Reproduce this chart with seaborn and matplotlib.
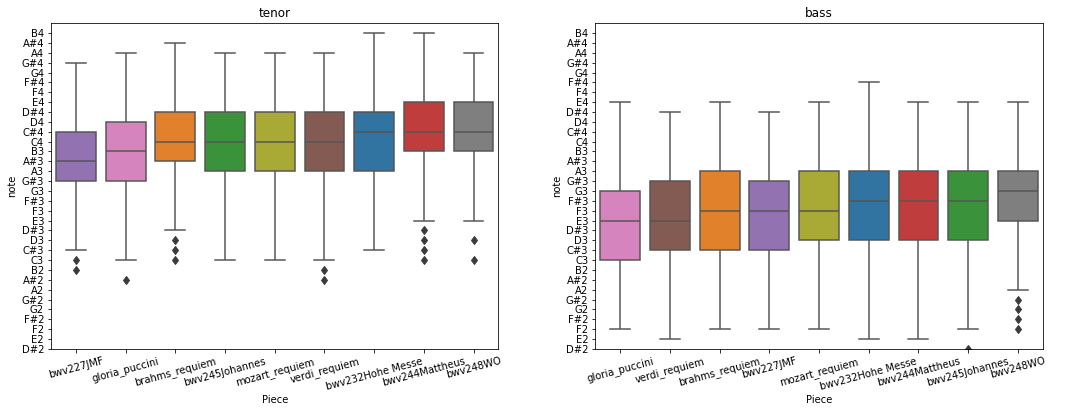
import numpy as np
import matplotlib
matplotlib.use('Agg')
import matplotlib.pyplot as plt
import pandas as pd
import seaborn as sns

# note names on the y axis, bottom to top (one semitone per tick)
notes = ['D#2', 'E2', 'F2', 'F#2', 'G2', 'G#2', 'A2', 'A#2', 'B2',
         'C3', 'C#3', 'D3', 'D#3', 'E3', 'F3', 'F#3', 'G3', 'G#3', 'A3', 'A#3', 'B3',
         'C4', 'C#4', 'D4', 'D#4', 'E4', 'F4', 'F#4', 'G4', 'G#4', 'A4', 'A#4', 'B4']

# box stats: low whisker, q1, median, q3, high whisker, outliers
tenor_pieces = ['bwv227JMF', 'gloria_puccini', 'brahms_requiem', 'bwv245Johannes',
                'mozart_requiem', 'verdi_requiem', 'bwv232Hohe Messe', 'bwv244Mattheus', 'bwv248WO']
tenor_lo = ['C#3', 'C3', 'D#3', 'C3', 'C3', 'C3', 'C#3', 'E3', 'E3']
tenor_q1 = ['G#3', 'G#3', 'A#3', 'A3', 'A3', 'A3', 'A3', 'B3', 'B3']
tenor_med = ['A#3', 'B3', 'C4', 'C4', 'C4', 'C4', 'C#4', 'C#4', 'C#4']
tenor_q3 = ['C#4', 'D4', 'D#4', 'D#4', 'D#4', 'D#4', 'D#4', 'E4', 'E4']
tenor_hi = ['G#4', 'A4', 'A#4', 'A4', 'A4', 'A4', 'B4', 'B4', 'A4']
tenor_out = [['C3', 'B2'], ['A#2'], ['D3', 'C#3', 'C3'], [], [], ['B2', 'A#2'], [],
             ['D#3', 'D3', 'C#3', 'C3'], ['D3', 'C3']]

bass_pieces = ['gloria_puccini', 'verdi_requiem', 'brahms_requiem', 'bwv227JMF',
               'mozart_requiem', 'bwv232Hohe Messe', 'bwv244Mattheus', 'bwv245Johannes', 'bwv248WO']
bass_lo = ['F2', 'E2', 'F2', 'F2', 'F2', 'E2', 'E2', 'F2', 'A2']
bass_q1 = ['C3', 'C#3', 'C#3', 'C#3', 'D3', 'D3', 'D3', 'D3', 'E3']
bass_med = ['E3', 'E3', 'F3', 'F3', 'F3', 'F#3', 'F#3', 'F#3', 'G3']
bass_q3 = ['G3', 'G#3', 'A3', 'G#3', 'A3', 'A3', 'A3', 'A3', 'A3']
bass_hi = ['E4', 'D#4', 'E4', 'D#4', 'E4', 'F#4', 'E4', 'E4', 'E4']
bass_out = [[], [], [], [], [], [], [], ['D#2'], ['G#2', 'G2', 'F#2', 'F2']]

palette = {
    'bwv232Hohe Messe': '#1f77b4', 'brahms_requiem': '#ff7f0e', 'bwv245Johannes': '#2ca02c',
    'bwv244Mattheus': '#d62728', 'bwv227JMF': '#9467bd', 'verdi_requiem': '#8c564b',
    'gloria_puccini': '#e377c2', 'bwv248WO': '#7f7f7f', 'mozart_requiem': '#bcbd22',
}


def build_frame(pieces, lo, q1, med, q3, hi, out):
    # sample of note numbers whose quartiles/whiskers give the boxes above
    rows = []
    for i, p in enumerate(pieces):
        vals = [out_n for out_n in out[i]] + [lo[i]] + [q1[i]] * 20 + [med[i]] * 20 \
            + [q3[i]] * 20 + [hi[i]]
        for v in vals:
            rows.append({'Piece': p, 'note': notes.index(v)})
    return pd.DataFrame(rows)


tenor = build_frame(tenor_pieces, tenor_lo, tenor_q1, tenor_med, tenor_q3, tenor_hi, tenor_out)
bass = build_frame(bass_pieces, bass_lo, bass_q1, bass_med, bass_q3, bass_hi, bass_out)

fig, axes = plt.subplots(1, 2, figsize=(1065 / 72, 413 / 72), dpi=72)
plt.subplots_adjust(left=0.048, right=0.979, top=0.944, bottom=0.155, wspace=0.217)

flier = dict(marker='d', markerfacecolor='#3a3a3a', markeredgecolor='#3a3a3a', markersize=6)

for ax, df, order, title in [(axes[0], tenor, tenor_pieces, 'tenor'),
                             (axes[1], bass, bass_pieces, 'bass')]:
    sns.boxplot(data=df, x='Piece', y='note', order=order, hue='Piece', hue_order=order,
                palette=palette, legend=False, ax=ax, flierprops=flier,
                linewidth=1.5, linecolor='#555555')
    ax.set_title(title)
    ax.set_yticks(range(len(notes)))
    ax.set_yticklabels(notes)
    ax.set_ylim(0, 33)
    ax.set_xlabel('Piece')
    ax.set_ylabel('note')
    ax.tick_params(axis='x', labelrotation=15)

plt.savefig('out.png', dpi=72)
